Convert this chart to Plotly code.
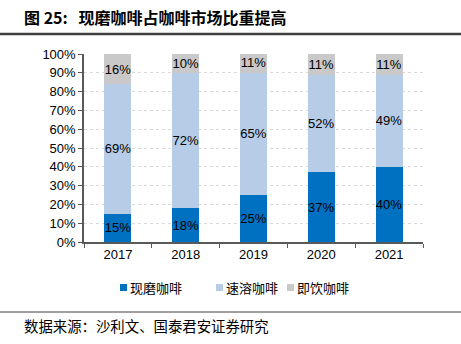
import plotly.graph_objects as go

years = ["2017", "2018", "2019", "2020", "2021"]
fresh = [15, 18, 25, 37, 40]
instant = [69, 72, 65, 52, 49]
rtd = [16, 10, 11, 11, 11]
series_names = ["现磨咖啡", "速溶咖啡", "即饮咖啡"]
colors = ["#0070C0", "#B7CCE6", "#C9C9C9"]
y_ticks = [0, 10, 20, 30, 40, 50, 60, 70, 80, 90, 100]

L, T, W, H = 84, 54, 339, 188


def px(x):
    return (x - L) / W


def py(y):
    return 1 - (y - T) / H


fig = go.Figure()
for name, vals, col in zip(series_names, [fresh, instant, rtd], colors):
    fig.add_trace(go.Bar(
        x=years, y=vals, name=name, marker=dict(color=col, line=dict(width=0)),
        text=[f"{v}%" for v in vals], textposition="inside",
        insidetextanchor="middle", textangle=0, constraintext="none",
        textfont=dict(family="Liberation Sans, Arial", size=13, color="#000000"),
        width=0.4, showlegend=False,
    ))

fig.update_layout(
    barmode="stack",
    width=461, height=344,
    margin=dict(l=L, r=461 - L - W, t=T, b=344 - T - H),
    paper_bgcolor="white", plot_bgcolor="white",
    showlegend=False,
)
fig.update_xaxes(
    type="category", showline=True, linecolor="#595959", linewidth=1.5,
    ticks="outside", tickson="boundaries", ticklen=4, tickcolor="#595959",
    tickfont=dict(family="Liberation Sans, Arial", size=13, color="#000"),
    showgrid=False,
)
fig.update_yaxes(
    range=[0, 100], tickvals=y_ticks, ticktext=[f"{v}%" for v in y_ticks],
    showline=True, linecolor="#595959", linewidth=1.5,
    ticks="outside", ticklen=4, tickcolor="#595959",
    tickfont=dict(family="Liberation Sans, Arial", size=13, color="#000"),
    showgrid=True, gridcolor="#D9D9D9", griddash="dot", gridwidth=1,
    zeroline=False,
)

# custom legend
legend_x = [120, 216, 287]
for name, col, lx in zip(series_names, colors, legend_x):
    fig.add_shape(type="rect", xref="paper", yref="paper",
                  x0=px(lx), x1=px(lx + 7), y0=py(291), y1=py(284),
                  fillcolor=col, line=dict(width=0))
    fig.add_annotation(text=name, xref="paper", yref="paper",
                       x=px(lx + 8), xanchor="left", y=py(287.5), yanchor="middle",
                       showarrow=False,
                       font=dict(family="Noto Sans CJK SC", size=13, color="#000"))

fig.add_annotation(text="<b>图 25:\u00a0\u00a0\u00a0现磨咖啡占咖啡市场比重提高</b>", xref="paper", yref="paper",
                   x=px(22), xanchor="left", y=py(17), yanchor="middle",
                   showarrow=False, font=dict(family="Noto Sans CJK SC", size=16, color="#000"))
fig.add_shape(type="line", xref="paper", yref="paper",
              x0=px(0), x1=px(461), y0=py(34), y1=py(34),
              line=dict(color="#404040", width=2.5))
fig.add_shape(type="line", xref="paper", yref="paper",
              x0=px(0), x1=px(461), y0=py(312), y1=py(312),
              line=dict(color="#404040", width=1))
fig.add_annotation(text="数据来源：沙利文、国泰君安证券研究", xref="paper", yref="paper",
                   x=px(22), xanchor="left", y=py(325), yanchor="middle",
                   showarrow=False, font=dict(family="Noto Sans CJK SC", size=14.4, color="#000"))

fig.write_html("out.html")
